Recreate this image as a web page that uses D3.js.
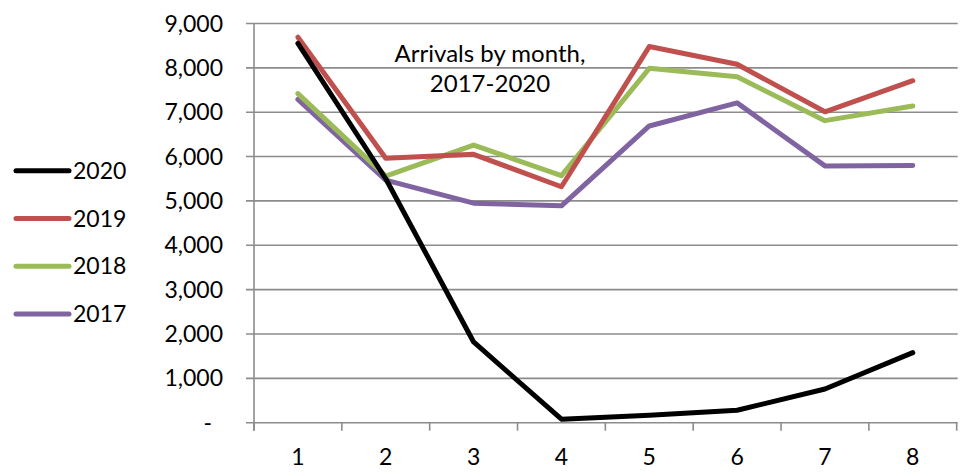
<!DOCTYPE html>
<html><head><meta charset="utf-8">
<script src="https://cdn.jsdelivr.net/npm/d3@7"></script>
<style>body{margin:0;background:#fff}svg{display:block}text{font-family:Lato,"Open Sans",sans-serif;fill:#000}</style>
</head><body>
<svg id="c" width="961" height="476"></svg>
<script>
const months = ["1","2","3","4","5","6","7","8"];
const yTicks = [0,1000,2000,3000,4000,5000,6000,7000,8000,9000];
const seriesNames = ["2020","2019","2018","2017"];
const seriesColors = ["#000000","#c0504d","#9bbb59","#8064a2"];
const v2020 = [8550,5500,1820,80,170,280,760,1580];
const v2019 = [8690,5960,6050,5320,8480,8080,7010,7710];
const v2018 = [7420,5560,6260,5570,7990,7800,6810,7140];
const v2017 = [7290,5470,4950,4890,6690,7210,5790,5800];
const values = [v2020, v2019, v2018, v2017];
const title = ["Arrivals by month,", "2017-2020"];

(function () {
const svg = d3.select("#c");
const pL = 254, pR = 956.7, pT = 23.5, pB = 422.7;
const x = d3.scaleBand().domain(months).range([pL, pR]);
const y = d3.scaleLinear().domain([0, 9000]).range([pB, pT]);
const grid = "#8c8c8c";
const fs = 23;

svg.append("g").selectAll("line").data(yTicks).join("line")
  .attr("x1", pL - 8).attr("x2", pR + 1)
  .attr("y1", d => y(d)).attr("y2", d => y(d))
  .attr("stroke", grid).attr("stroke-width", 1.6);
svg.append("line").attr("x1", pL).attr("x2", pL).attr("y1", pT).attr("y2", pB + 8)
  .attr("stroke", grid).attr("stroke-width", 1.6);
const bounds = months.map(m => x(m)).concat([pR]);
svg.append("g").selectAll("line").data(bounds).join("line")
  .attr("x1", d => d).attr("x2", d => d).attr("y1", pB).attr("y2", pB + 8)
  .attr("stroke", grid).attr("stroke-width", 1.6);

const fmt = d3.format(",");
svg.append("g").selectAll("text").data(yTicks).join("text")
  .attr("x", d => d === 0 ? 212 : 223).attr("y", d => y(d)).attr("dy", "0.35em")
  .attr("text-anchor", "end").attr("font-size", fs)
  .text(d => d === 0 ? "-" : fmt(d));
svg.append("g").selectAll("text").data(months).join("text")
  .attr("x", d => x(d) + x.bandwidth() / 2).attr("y", 457).attr("dy", "0.35em")
  .attr("text-anchor", "middle").attr("font-size", fs).text(d => d);

const line = d3.line().x((d, i) => x(months[i]) + x.bandwidth() / 2).y(d => y(d));
const order = [3, 2, 1, 0];
svg.append("g").selectAll("path").data(order).join("path")
  .attr("d", i => line(values[i])).attr("fill", "none")
  .attr("stroke", i => seriesColors[i]).attr("stroke-width", 5)
  .attr("stroke-linejoin", "round").attr("stroke-linecap", "round");

const lg = svg.append("g").selectAll("g").data(seriesNames).join("g")
  .attr("transform", (d, i) => `translate(0,${170.7 + i * 47.8})`);
lg.append("line").attr("x1", 16).attr("x2", 69).attr("stroke", (d, i) => seriesColors[i])
  .attr("stroke-width", 5).attr("stroke-linecap", "round");
lg.append("text").attr("x", 73).attr("dy", "0.35em").attr("font-size", fs).text(d => d);

svg.append("g").selectAll("text").data(title).join("text")
  .attr("x", 490).attr("y", (d, i) => 54 + i * 30).attr("dy", "0.35em")
  .attr("text-anchor", "middle").attr("font-size", 24).text(d => d);
})();
</script>
</body></html>
